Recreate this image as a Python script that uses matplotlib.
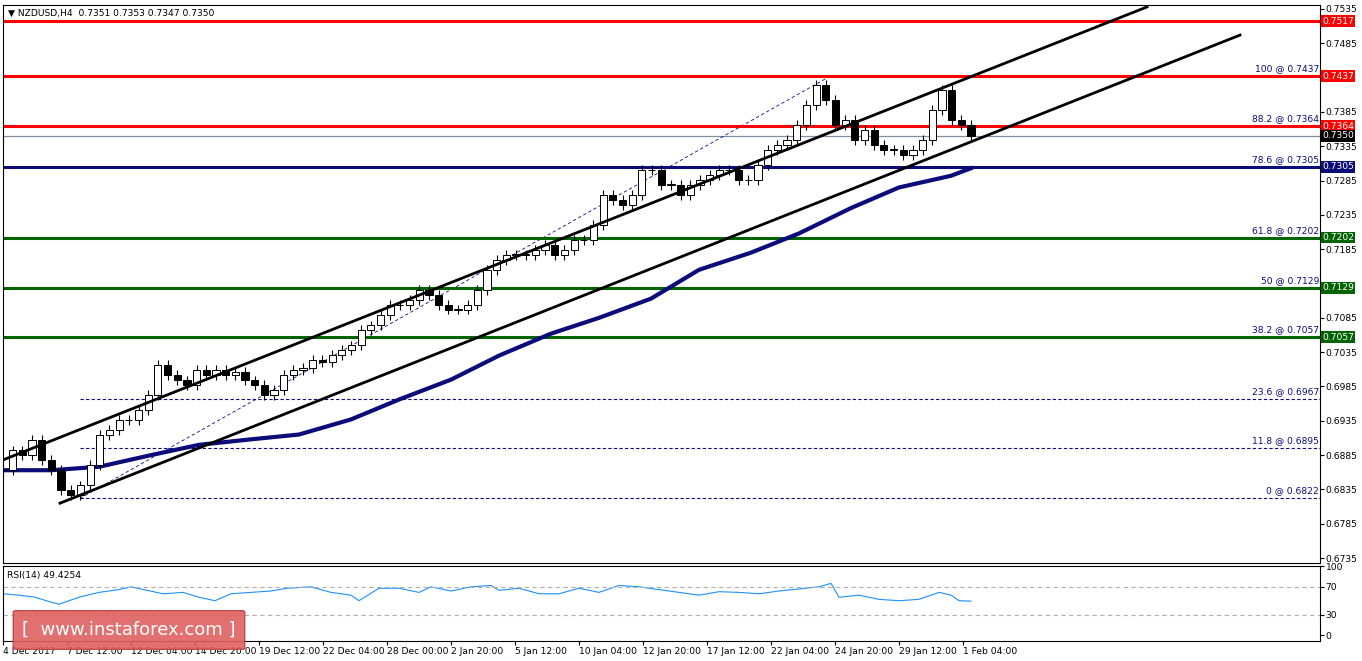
import matplotlib
matplotlib.use("Agg")
import matplotlib.pyplot as plt
from matplotlib.patches import Rectangle, FancyBboxPatch
import numpy as np

closes = [.6863,.6892,.6885,.6907,.6878,.6863,.6834,.6827,.6841,.6871,.6914,.6922,.6936,.6936,.6951,
 .6973,.7016,.7002,.6994,.6987,.7009,.7002,.7009,.7002,.7006,.6994,.6987,.6973,.6980,.7002,.7009,.7012,
 .7024,.7021,.7031,.7038,.7045,.7067,.7074,.7089,.7104,.7104,.7111,.7126,.7118,.7104,.7097,.7097,.7104,
 .7126,.7155,.7169,.7177,.7177,.7177,.7184,.7191,.7177,.7184,.7198,.7198,.7220,.7264,.7257,.7249,.7264,
 .7300,.7300,.7279,.7279,.7264,.7279,.7286,.7293,.7300,.7300,.7286,.7286,.7308,.7330,.7337,.7344,.7366,
 .7395,.7424,.7402,.7366,.7373,.7344,.7359,.7337,.7330,.7330,.7322,.7330,.7344,.7388,.7417,.7373,.7366,.7350]
ma_x = [0,12,24,37,49,62,74,87,99,112,124,137,149,162,174,187,199,212,224,237,242]
ma_y = [.6863,.6863,.6868,.6885,.6900,.6908,.6915,.6937,.6966,.6995,.7030,.7062,.7085,.7113,.7155,.7180,.7208,.7245,.7275,.7292,.7303]
rsi_x = [0,4,8,12,14,19,24,29,32,36,40,45,49,53,57,62,67,71,77,82,87,89,94,99,104,107,112,117,122,124,
 129,134,139,144,149,154,159,164,169,174,179,184,189,194,199,204,207,209,214,219,224,229,234,237,239,242]
rsi_y = [60,58,55,48,45,55,62,66,70,65,60,62,55,50,60,62,64,68,70,62,58,50,68,68,62,70,64,70,72,65,
 68,60,60,68,62,72,70,66,62,58,63,62,60,64,67,70,75,55,58,52,50,52,62,58,50,49.4]
fib_levels = [0.6822,0.6895,0.6967,0.7057,0.7129,0.7202,0.7305,0.7364,0.7437]
fib_names = ["0","11.8","23.6","38.2","50","61.8","78.6","88.2","100"]
ytick_vals = [0.6735,0.6785,0.6835,0.6885,0.6935,0.6985,0.7035,0.7085,0.7185,0.7235,0.7285,0.7335,0.7385,0.7485,0.7535]
xtick_labels = ["4 Dec 2017","7 Dec 12:00","12 Dec 04:00","14 Dec 20:00","19 Dec 12:00","22 Dec 04:00",
 "28 Dec 00:00","2 Jan 20:00","5 Jan 12:00","10 Jan 04:00","12 Jan 20:00","17 Jan 12:00","22 Jan 04:00",
 "24 Jan 20:00","29 Jan 12:00","1 Feb 04:00"]

FS = 6.6
W,H = 1362,661
fig = plt.figure(figsize=(W/100,H/100), dpi=100)
ax = fig.add_axes([3/W,(H-563)/H,1317/W,558/H])
ar = fig.add_axes([3/W,(H-641)/H,1317/W,75/H])
ylo = 0.7535-554*0.0001457; yhi = 0.7535+4*0.0001457
ax.set_ylim(ylo,yhi); ax.set_xlim(0,329.25)
ar.set_xlim(0,329.25); ar.set_ylim(-8,96)

step = 242/(len(closes)-1)
prev = closes[0]
for i,c in enumerate(closes):
    x = i*step; o = prev
    lo_, hi_ = min(o,c), max(o,c)
    ax.vlines(x, lo_-0.0007, hi_+0.0007, color='black', lw=0.8, zorder=4)
    ax.add_patch(Rectangle((x-0.9, lo_), 1.8, max(hi_-lo_,0.00004),
                 facecolor='white' if c>=o else 'black', edgecolor='black', lw=0.7, zorder=5))
    prev = c

ax.plot(ma_x, ma_y, color='#0b0b7a', lw=3, zorder=3)
ax.plot([0,286],[.6878,.7538], color='black', lw=2, zorder=6)
ax.plot([14.25,309.25],[.6815,.7497], color='black', lw=2, zorder=6)
ax.plot([19.25,206.75],[.6822,.7437], color='#0b0b7a', lw=0.6, ls=(0,(4,3)), zorder=2)

for lv,c in [(0.7517,'red'),(0.7437,'red'),(0.7364,'red')]:
    ax.axhline(lv, color=c, lw=2.2, zorder=2)
ax.axhline(0.7350, color='#8090a0', lw=0.9, zorder=1)
ax.axhline(0.7305, color='#0b0b7a', lw=2.2, zorder=2)
for lv in [0.7202,0.7129,0.7057]:
    ax.axhline(lv, color='#006400', lw=2.2, zorder=2)
for lv in [0.6967,0.6895,0.6822]:
    ax.plot([19.25,329.25],[lv,lv], color='#0b0b7a', lw=0.8, ls=(0,(3,2)), zorder=2)
for lv,n in zip(fib_levels,fib_names):
    ax.text(329, lv+0.0004, f"{n} @ {lv:.4f}", ha='right', va='bottom', fontsize=FS, color='#0b0b7a', zorder=7)

ax.yaxis.tick_right()
ax.set_yticks(ytick_vals); ax.set_yticklabels([f"{v:.4f}" for v in ytick_vals], fontsize=FS)
ax.tick_params(axis='y', length=3, pad=1)
ax.set_xticks([])
for lv,fc in [(0.7517,'red'),(0.7437,'red'),(0.7364,'red'),(0.7350,'black'),(0.7305,'#0b0b7a'),
              (0.7202,'#006400'),(0.7129,'#006400'),(0.7057,'#006400')]:
    ax.text(1.0015, lv, f"{lv:.4f}", transform=ax.get_yaxis_transform(), ha='left', va='center',
            fontsize=FS, color='white', zorder=10, clip_on=False,
            bbox=dict(boxstyle='square,pad=0.15', fc=fc, ec='none'))
ax.text(0.004, 0.993, "▼ NZDUSD,H4  0.7351 0.7353 0.7347 0.7350", transform=ax.transAxes,
        ha='left', va='top', fontsize=FS)

ar.plot(rsi_x, rsi_y, color='#1e90ff', lw=0.8)
for lv in [70,30]:
    ar.axhline(lv, color='#b0b0b0', lw=0.8, ls=(0,(4,3)))
ar.yaxis.tick_right()
ar.set_yticks([0,30,70,100]); ar.set_yticklabels(['0','30','70','100'], fontsize=FS)
ar.tick_params(axis='y', length=3, pad=1)
ar.text(0.003, 0.93, "RSI(14) 49.4254", transform=ar.transAxes, ha='left', va='top', fontsize=FS)
ticks = [i*16 for i in range(len(xtick_labels))]
ar.set_xticks(ticks); ar.set_xticklabels(xtick_labels, fontsize=FS, ha='left')
ar.tick_params(axis='x', length=3, pad=1)

wm = FancyBboxPatch((16/W,(H-648)/H), 226/W, 36/H, boxstyle='round,pad=0.002', transform=fig.transFigure,
                    fc='#e06060', ec='#c04040', alpha=0.9, zorder=20)
fig.patches.append(wm)
fig.text(129/W,(H-630)/H, "[  www.instaforex.com ]", ha='center', va='center', color='white', fontsize=13, zorder=21)
fig.savefig("out.png", dpi=100)
